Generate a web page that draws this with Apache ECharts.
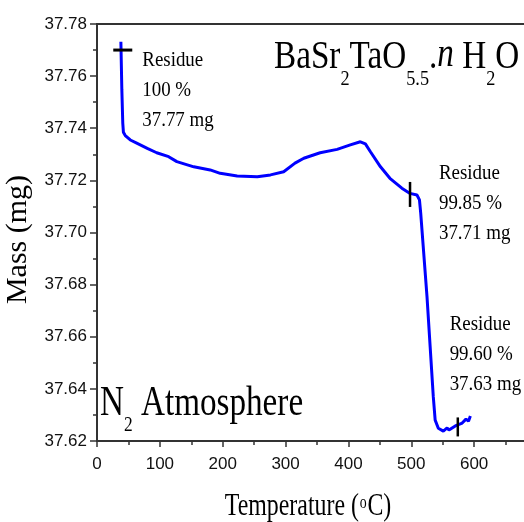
<!DOCTYPE html>
<html>
<head>
<meta charset="utf-8">
<script src="https://cdn.jsdelivr.net/npm/echarts@6/dist/echarts.min.js"></script>
<style>
  html, body { margin: 0; padding: 0; background: #fff; }
  #main { width: 524px; height: 522px; }
</style>
</head>
<body>
<div id="main"></div>
<script>
// TGA curve
const temps = [38, 39.5, 41, 42, 45, 53, 64, 80, 95, 114, 127, 154, 180, 196, 223, 255, 276, 297, 315, 329,
  355, 382, 403, 419, 427, 435, 451, 466, 485, 498, 509, 513, 515, 519, 525, 530, 535, 538, 543, 551,
  557, 560, 570, 581, 587, 591, 594]
const mass = [37.7732, 37.7550, 37.7420, 37.7385, 37.7372, 37.7355, 37.7342, 37.7323, 37.7306, 37.7291,
  37.7272, 37.7252, 37.7240, 37.7227, 37.7217, 37.7214, 37.7221, 37.7233, 37.7266, 37.7285,
  37.7306, 37.7319, 37.7336, 37.7348, 37.7340, 37.7310, 37.7252, 37.7208, 37.7170, 37.7150,
  37.7144, 37.7125, 37.7074, 37.6946, 37.6754, 37.6562, 37.6370, 37.6280, 37.6249, 37.6238,
  37.6250, 37.6242, 37.6258, 37.6269, 37.6284, 37.6276, 37.6296]

// residue markers
const markTemp = [41, 498, 574]
const markMass = [37.770, 37.7146, 37.6254]

// residue notes
const noteTemp = [72, 544, 561]
const noteMass = [37.7547, 37.7113, 37.6534]
const noteText = [
  ['Residue', '100 %', '37.77 mg'],
  ['Residue', '99.85 %', '37.71 mg'],
  ['Residue', '99.60 %', '37.63 mg'],
]

const serif = '"Liberation Serif", "Times New Roman", serif'
const sans = '"Liberation Sans", Arial, sans-serif'

let chart = echarts.init(document.getElementById('main'))

let option = {
  animation: false,
  grid: {
    left: 97,
    top: 24,
    right: -13,
    bottom: 81,
    show: true,
    borderColor: '#333',
    borderWidth: 2,
    outerBoundsMode: 'none',
  },
  xAxis: {
    type: 'value',
    min: 0,
    max: 700,
    interval: 100,
    splitLine: { show: false },
    axisLine: { onZero: false, lineStyle: { color: '#333', width: 2 } },
    axisTick: { length: 6, lineStyle: { color: '#333', width: 1.5 } },
    minorTick: { show: true, splitNumber: 2, length: 4, lineStyle: { color: '#333', width: 1.5 } },
    axisLabel: {
      margin: 15,
      color: '#111',
      fontFamily: sans,
      fontSize: 17,
      formatter: v => (v > 600 ? '' : v),
    },
  },
  yAxis: {
    type: 'value',
    min: 37.62,
    max: 37.78,
    interval: 0.02,
    name: 'Mass (mg)',
    nameLocation: 'middle',
    nameGap: 51,
    nameTextStyle: { fontFamily: serif, fontSize: 30, color: '#000', padding: [0, 14, 0, 0] },
    splitLine: { show: false },
    axisLine: { onZero: false, lineStyle: { color: '#333', width: 2 } },
    axisTick: { length: 7, lineStyle: { color: '#333', width: 1.5 } },
    minorTick: { show: true, splitNumber: 2, length: 4, lineStyle: { color: '#333', width: 1.5 } },
    axisLabel: {
      margin: 10,
      color: '#111',
      fontFamily: sans,
      fontSize: 17,
      formatter: v => v.toFixed(2),
    },
  },
  series: [
    {
      name: 'mass',
      type: 'line',
      data: temps.map((t, i) => [t, mass[i]]),
      showSymbol: false,
      lineStyle: { color: '#0000ff', width: 3 },
      z: 2,
    },
    {
      name: 'markers',
      type: 'scatter',
      symbol: 'rect',
      data: [
        { value: [markTemp[0], markMass[0]], symbolSize: [19, 3] },
        { value: [markTemp[1], markMass[1]], symbolSize: [2.5, 25] },
        { value: [markTemp[2], markMass[2]], symbolSize: [2.5, 19] },
      ],
      itemStyle: { color: '#000', opacity: 1 },
      z: 3,
    },
  ],
  graphic: [
    {
      type: 'text',
      x: 274,
      y: 35,
      scaleX: 0.83,
      style: {
        text: 'BaSr{s|2}TaO{s|5.5}.{i|n} H{s|2}O',
        fill: '#000',
        verticalAlign: 'top',
        rich: {
          s: { fontFamily: serif, fontSize: 22, lineHeight: 22, verticalAlign: 'top', padding: [33, 0, 0, 0] },
          i: { fontFamily: serif, fontSize: 40, lineHeight: 44, fontStyle: 'italic', verticalAlign: 'top' },
        },
        fontFamily: serif,
        fontSize: 40,
        lineHeight: 44,
      },
    },
    {
      type: 'text',
      x: 100,
      y: 381,
      scaleX: 0.79,
      style: {
        text: 'N{s|2} Atmosphere',
        fill: '#000',
        verticalAlign: 'top',
        rich: {
          s: { fontFamily: serif, fontSize: 22, lineHeight: 22, verticalAlign: 'top', padding: [33, 0, 0, 0] },
        },
        fontFamily: serif,
        fontSize: 42,
        lineHeight: 46,
      },
    },
    {
      type: 'text',
      x: 308,
      y: 490,
      scaleX: 0.77,
      style: {
        text: 'Temperature ({o|o}C)',
        fill: '#000',
        align: 'center',
        verticalAlign: 'top',
        rich: {
          o: { fontFamily: serif, fontSize: 18, lineHeight: 18, verticalAlign: 'top', padding: [4, 1, 0, 1] },
        },
        fontFamily: serif,
        fontSize: 31,
        lineHeight: 34,
      },
    },
  ],
}

chart.setOption(option)

// residue notes, placed from their data coordinates
let notes = noteTemp.map((t, i) => {
  let p = chart.convertToPixel({ gridIndex: 0 }, [t, noteMass[i]])
  return {
    type: 'text',
    x: p[0],
    y: p[1],
    scaleX: 0.86,
    style: {
      text: noteText[i].join('\n'),
      fill: '#000',
      fontFamily: serif,
      fontSize: 22,
      lineHeight: 30,
      align: 'left',
      verticalAlign: 'middle',
    },
  }
})
chart.setOption({ graphic: option.graphic.concat(notes) })

window.addEventListener('resize', () => {
  chart.resize()
})
</script>
</body>
</html>
